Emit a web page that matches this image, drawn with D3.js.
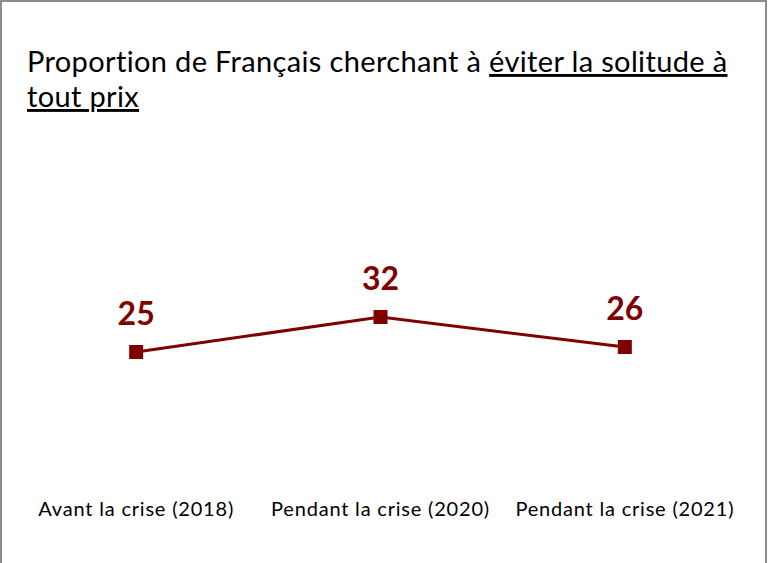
<!DOCTYPE html>
<html>
<head>
<meta charset="utf-8">
<script src="https://cdn.jsdelivr.net/npm/d3@7"></script>
<style>
  body { margin: 0; background: #fff; }
  svg { display: block; font-family: Lato, "Open Sans", sans-serif; font-variant-ligatures: none; }
</style>
</head>
<body>
<div id="chart"></div>
<script>
var categories = ["Avant la crise (2018)", "Pendant la crise (2020)", "Pendant la crise (2021)"];
var values = [25, 32, 26];

var width = 770,
    height = 563;

var svg = d3.select('#chart').append('svg')
  .attr('width', width)
  .attr('height', height);

// frame
svg.append('rect')
  .attr('x', 1).attr('y', 1)
  .attr('width', 765).attr('height', 570)
  .attr('fill', '#fff')
  .attr('stroke', '#8c8c8c')
  .attr('stroke-width', 2);

// title
var title = svg.append('text')
  .attr('font-size', 29)
  .attr('letter-spacing', 0.35)
  .attr('fill', '#000');
var l1 = title.append('tspan').attr('x', 27).attr('y', 72);
l1.append('tspan').text('Proportion de Français cherchant à ');
l1.append('tspan').style('text-decoration', 'underline').text('éviter la solitude à');
title.append('tspan').attr('x', 27).attr('y', 107)
  .style('text-decoration', 'underline').text('tout prix');

var xScale = d3.scaleBand()
  .domain(categories)
  .range([14, 747]);

var yScale = d3.scaleLinear()
  .domain([20, 40])
  .range([377, 277]);

var cx = function(d, i) { return xScale(categories[i]) + xScale.bandwidth() / 2; };

var line = d3.line()
  .x(function(d, i) { return cx(d, i); })
  .y(function(d) { return yScale(d); });

svg.append('path')
  .attr('d', line(values))
  .attr('stroke', '#800000')
  .attr('stroke-width', 3)
  .attr('fill', 'none');

svg.selectAll('.pt')
  .data(values)
  .enter().append('rect')
  .attr('class', 'pt')
  .attr('x', function(d, i) { return cx(d, i) - 7; })
  .attr('y', function(d) { return yScale(d) - 7; })
  .attr('width', 14).attr('height', 14)
  .attr('fill', '#800000');

svg.selectAll('.lbl')
  .data(values)
  .enter().append('text')
  .attr('class', 'lbl')
  .attr('x', function(d, i) { return cx(d, i); })
  .attr('y', function(d) { return yScale(d) - 27; })
  .attr('text-anchor', 'middle')
  .attr('font-size', 32)
  .attr('font-weight', 'bold')
  .attr('fill', '#800000')
  .text(function(d) { return d; });

var xAxis = d3.axisBottom(xScale).tickSize(0).tickPadding(0);
var ax = svg.append('g')
  .attr('transform', 'translate(0,502)')
  .call(xAxis);
ax.select('.domain').remove();
ax.selectAll('text')
  .attr('font-family', 'Lato, "Open Sans", sans-serif')
  .attr('font-size', 20)
  .attr('letter-spacing', 0.8)
  .attr('fill', '#000');
</script>
</body>
</html>
